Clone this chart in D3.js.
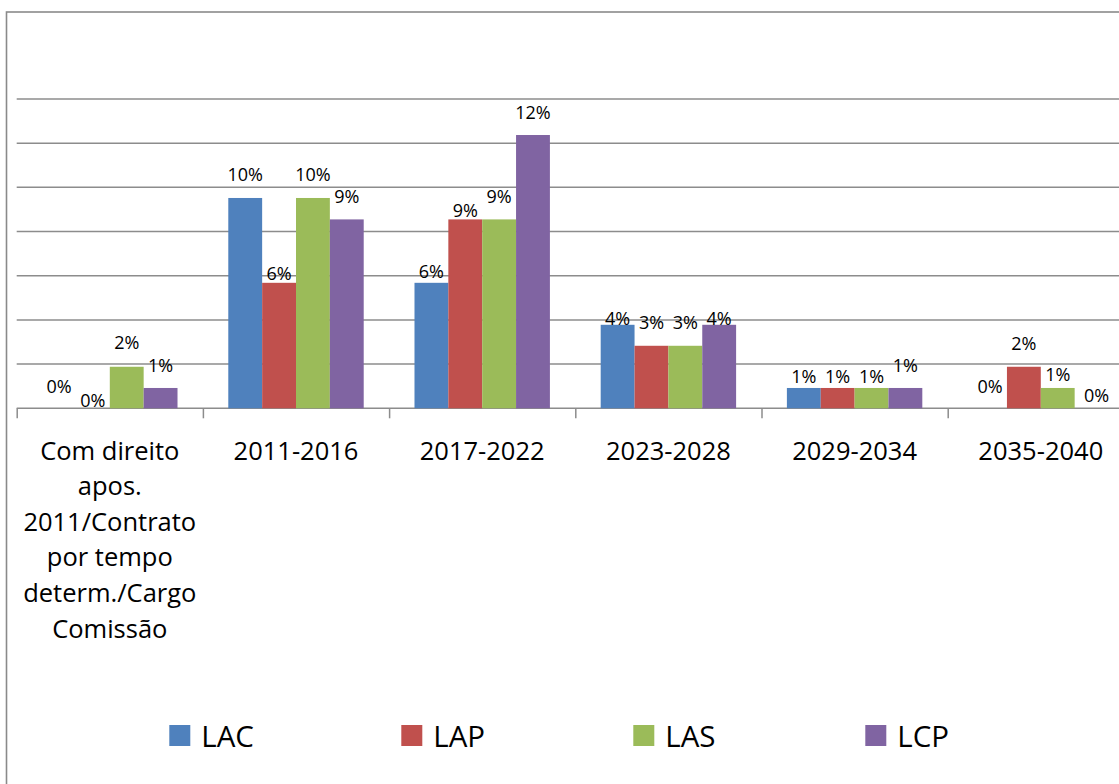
<!DOCTYPE html>
<html>
<head>
<meta charset="utf-8">
<script src="https://cdn.jsdelivr.net/npm/d3@7"></script>
<style>
  body { margin: 0; background: #fff; }
  svg { display: block; font-family: "Open Sans", sans-serif; }
</style>
</head>
<body>
<div id="chart"></div>
<script>
// categories (line breaks as in the original label)
var categories = [
  "Com direito\napos.\n2011/Contrato\npor tempo\ndeterm./Cargo\nComissão",
  "2011-2016", "2017-2022", "2023-2028", "2029-2034", "2035-2040"
];
var seriesNames = ["LAC", "LAP", "LAS", "LCP"];
var colors = ["#4F81BD", "#C0504D", "#9BBB59", "#8064A2"];

// series values (share of total)
var LAC = [0, 0.0952, 0.0568, 0.0378, 0.0092, 0];
var LAP = [0, 0.0568, 0.0855, 0.0283, 0.0092, 0.0188];
var LAS = [0.0188, 0.0952, 0.0855, 0.0283, 0.0092, 0.0092];
var LCP = [0.0092, 0.0855, 0.1237, 0.0378, 0.0092, 0];
var seriesValues = [LAC, LAP, LAS, LCP];

var yTicks = [0.02, 0.04, 0.06, 0.08, 0.10, 0.12, 0.14];

// label nudges: gap (px) between bar top and label baseline, per category / series
// (the original chart moved some labels down to avoid overlaps)
var labelGap = [
  [15, 1, 17.5, 16],
  [17, 2.5, 17, 16],
  [5, 2.5, 16.5, 16.5],
  [0, 17, 17, 0],
  [5, 5, 5, 16],
  [15, 17, 7, 6]
];

var width = 1119, height = 784;
var plot = {left: 16.7, top: 99, bottom: 408.3, band: 186.2};

var svg = d3.select("#chart").append("svg")
  .attr("width", width)
  .attr("height", height);

// chart area border (cut off at right and bottom in the original)
svg.append("rect")
  .attr("x", 6.5).attr("y", 12)
  .attr("width", 1300).attr("height", 900)
  .attr("fill", "none")
  .attr("stroke", "#8a8a8a")
  .attr("stroke-width", 1.6);

var x0 = d3.scaleBand()
  .domain(d3.range(categories.length))
  .range([plot.left, plot.left + plot.band * categories.length])
  .padding(0);

var bw = x0.bandwidth();
var x1 = d3.scaleBand()
  .domain(d3.range(seriesNames.length))
  .range([bw * 0.75 / 5.5, bw - bw * 0.75 / 5.5])
  .padding(0);

var y = d3.scaleLinear()
  .domain([0, 0.14])
  .range([plot.bottom, plot.top]);

// gridlines
svg.append("g")
  .selectAll("line")
  .data(yTicks)
  .enter().append("line")
  .attr("x1", plot.left)
  .attr("x2", width + 10)
  .attr("y1", d => y(d))
  .attr("y2", d => y(d))
  .attr("stroke", "#8c8c8c")
  .attr("stroke-width", 1.5);

// x axis: ticks at category boundaries
var xIdx = d3.scaleLinear()
  .domain([0, categories.length])
  .range(x0.range());

var xAxis = svg.append("g")
  .attr("transform", "translate(0," + plot.bottom + ")")
  .call(d3.axisBottom(xIdx)
    .tickValues(d3.range(categories.length + 1))
    .tickFormat("")
    .tickSize(10)
    .tickSizeOuter(0));
xAxis.select(".domain").attr("stroke", "#8c8c8c").attr("stroke-width", 1.5)
  .attr("d", "M" + plot.left + ",0H" + (width + 10));
xAxis.selectAll(".tick line").attr("stroke", "#8c8c8c").attr("stroke-width", 1.5);

// bars
var groups = svg.append("g")
  .selectAll("g")
  .data(categories.map((c, i) => i))
  .enter().append("g")
  .attr("transform", i => "translate(" + x0(i) + ",0)");

groups.selectAll("rect")
  .data(i => seriesValues.map((s, j) => ({cat: i, ser: j, v: s[i]})))
  .enter().append("rect")
  .attr("x", d => x1(d.ser))
  .attr("y", d => y(d.v))
  .attr("width", x1.bandwidth())
  .attr("height", d => plot.bottom - y(d.v))
  .attr("fill", d => colors[d.ser]);

// data labels
var fmt = d3.format(".0%");
groups.selectAll("text.val")
  .data(i => seriesValues.map((s, j) => ({cat: i, ser: j, v: s[i]})))
  .enter().append("text")
  .attr("class", "val")
  .attr("x", d => x1(d.ser) + x1.bandwidth() / 2 + (d.cat === 5 && d.ser === 3 ? 5 : 0))
  .attr("y", d => y(d.v) - labelGap[d.cat][d.ser])
  .attr("text-anchor", "middle")
  .attr("font-size", 18)
  .attr("fill", "#000")
  .text(d => fmt(d.v));

// category labels
var catLabels = svg.append("g")
  .selectAll("text")
  .data(categories)
  .enter().append("text")
  .attr("x", (d, i) => x0(i) + bw / 2)
  .attr("y", 459.5)
  .attr("text-anchor", "middle")
  .attr("font-size", 25.5)
  .attr("fill", "#000");

catLabels.each(function(d) {
  var t = d3.select(this);
  d.split("\n").forEach(function(line, k) {
    t.append("tspan")
      .attr("x", t.attr("x"))
      .attr("dy", k === 0 ? 0 : 35.6)
      .text(line);
  });
});

// legend
var legend = svg.append("g")
  .selectAll("g")
  .data(seriesNames)
  .enter().append("g")
  .attr("transform", (d, i) => "translate(" + (169.3 + i * 232) + ",725)");

legend.append("rect")
  .attr("width", 21)
  .attr("height", 21)
  .attr("fill", (d, i) => colors[i]);

legend.append("text")
  .attr("x", 32)
  .attr("y", 21.7)
  .attr("font-size", 29.5)
  .attr("fill", "#000")
  .text(d => d);
</script>
</body>
</html>
